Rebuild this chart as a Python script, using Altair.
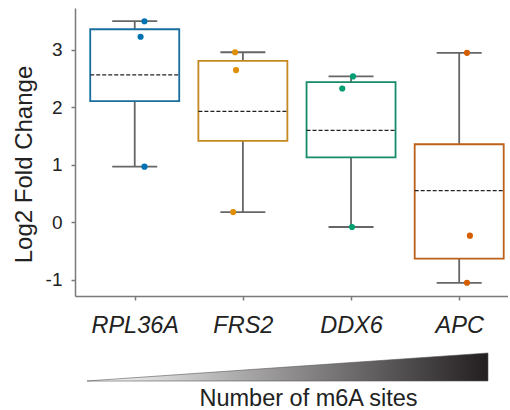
import altair as alt
import pandas as pd

# ---- data ----
genes = ["RPL36A", "FRS2", "DDX6", "APC"]
box_low = [2.11, 1.42, 1.13, -0.63]
box_high = [3.36, 2.81, 2.44, 1.36]
mean_val = [2.565, 1.93, 1.60, 0.553]
whisk_low = [0.97, 0.18, -0.08, -1.05]
whisk_high = [3.50, 2.96, 2.54, 2.95]

pt_gene = ["RPL36A"] * 3 + ["FRS2"] * 3 + ["DDX6"] * 3 + ["APC"] * 3
pt_value = [3.50, 3.23, 0.97, 2.96, 2.65, 0.18, 2.54, 2.33, -0.08, 2.95, -0.23, -1.05]
# horizontal jitter of each dot, in units of the gene spacing
pt_jitter = [0.09, 0.054, 0.09, -0.072, -0.063, -0.09, 0.018, -0.081, 0.009, 0.072, 0.099, 0.072]

y_ticks = [-1, 0, 1, 2, 3]

box_colors = ["#176d9c", "#c38820", "#168b6a", "#ba611b"]
point_colors = ["#0173B2", "#DE8F05", "#029E73", "#D55E00"]

ramp_x = [0, 1]
ramp_h = [0, 1]

FONT = "Liberation Sans"

gene_index = {g: i for i, g in enumerate(genes)}
summary = pd.DataFrame({
    "gene": genes, "pos": [gene_index[g] for g in genes],
    "q1": box_low, "q3": box_high, "mean": mean_val,
    "lo": whisk_low, "hi": whisk_high,
})
points = pd.DataFrame({
    "gene": pt_gene, "value": pt_value,
    "px": [gene_index[g] + j for g, j in zip(pt_gene, pt_jitter)],
})
ramp = pd.DataFrame({"x": ramp_x, "h": ramp_h})

PLOT_W = 433
PLOT_H = 288
BOX_W = 89
CAP_W = 45

xscale = alt.Scale(domain=[-0.506, 3.405], nice=False, zero=False)
yscale = alt.Scale(domain=[-1.28, 3.73], nice=False, zero=False)

label_expr = "[" + ",".join("'%s'" % g for g in genes) + "][datum.value]"
x_axis = alt.Axis(
    title=None, values=list(range(len(genes))), labelExpr=label_expr, labelAngle=0,
    labelFont=FONT, labelFontSize=23.5, labelFontStyle="italic", labelColor="#222222",
    tickSize=4, labelPadding=13, domainColor="#7a7a7a", tickColor="#7a7a7a",
    domainWidth=1.5, tickWidth=1.5, grid=False, labelFlush=False, labelOverlap=False)
y_axis = alt.Axis(
    title="Log2 Fold Change", titleFont=FONT, titleFontSize=24, titleFontWeight="normal",
    titleColor="#222222", titlePadding=9, titleY=156, values=y_ticks,
    labelExpr="datum.value < 0 ? '-' + abs(datum.value) : '' + datum.value",
    labelFont=FONT, labelFontSize=19, labelColor="#222222", tickSize=4, labelPadding=9,
    grid=False, domainColor="#7a7a7a", tickColor="#7a7a7a", domainWidth=1.5, tickWidth=1.5)

base = alt.Chart(summary)
xenc = alt.X("pos:Q", scale=xscale, axis=x_axis)

whisker = base.mark_rule(color="#666666", strokeWidth=1.8).encode(
    x=xenc, y=alt.Y("lo:Q", scale=yscale, axis=y_axis), y2="hi:Q")

cap_lo = base.mark_rule(color="#666666", strokeWidth=1.8,
                        xOffset=-CAP_W / 2, x2Offset=CAP_W / 2).encode(
    x=xenc, x2=alt.X2("pos:Q"), y=alt.Y("lo:Q", scale=yscale))
cap_hi = base.mark_rule(color="#666666", strokeWidth=1.8,
                        xOffset=-CAP_W / 2, x2Offset=CAP_W / 2).encode(
    x=xenc, x2=alt.X2("pos:Q"), y=alt.Y("hi:Q", scale=yscale))

box = base.mark_bar(size=BOX_W, fill="white", strokeWidth=1.8).encode(
    x=xenc, y=alt.Y("q1:Q", scale=yscale), y2="q3:Q",
    stroke=alt.Stroke("gene:N", scale=alt.Scale(domain=genes, range=box_colors), legend=None))

mean_line = base.mark_rule(color="#222222", strokeWidth=1.3, strokeDash=[4, 2],
                           xOffset=-BOX_W / 2, x2Offset=BOX_W / 2).encode(
    x=xenc, x2=alt.X2("pos:Q"), y=alt.Y("mean:Q", scale=yscale))

pts = alt.Chart(points).mark_circle(size=38, opacity=1).encode(
    x=alt.X("px:Q", scale=xscale),
    y=alt.Y("value:Q", scale=yscale),
    color=alt.Color("gene:N", scale=alt.Scale(domain=genes, range=point_colors), legend=None))

top = alt.layer(whisker, cap_lo, cap_hi, box, mean_line, pts).properties(
    width=PLOT_W, height=PLOT_H)

# ramp starts 12px right of the plot origin and spans 401px
RAMP_START = 12
RAMP_LEN = 401
xdom = [-RAMP_START / RAMP_LEN, (PLOT_W - RAMP_START) / RAMP_LEN]

bottom = alt.Chart(ramp).mark_area(
    color=alt.Gradient(
        gradient="linear",
        stops=[alt.GradientStop(color="#ffffff", offset=0),
               alt.GradientStop(color="#231f20", offset=1)],
        x1=0, x2=1, y1=0, y2=0),
    stroke="#555555", strokeWidth=0.6,
).encode(
    x=alt.X("x:Q", scale=alt.Scale(domain=xdom, nice=False, zero=False),
            axis=alt.Axis(labels=False, ticks=False, domain=False, grid=False,
                          title="Number of m6A sites", titleFont=FONT, titleFontSize=23.5,
                          titleFontWeight="normal", titleColor="#222222",
                          titlePadding=5, titleX=233)),
    y=alt.Y("h:Q", scale=alt.Scale(domain=[0, 1], nice=False), axis=None),
).properties(width=PLOT_W, height=28)

chart = alt.vconcat(top, bottom, spacing=57, bounds="flush").properties(
    padding={"left": 12, "top": 8, "right": 0, "bottom": 0},
    background="white",
).configure_view(stroke=None)

chart.save("out.html", embed_options={"renderer": "svg", "actions": False})
